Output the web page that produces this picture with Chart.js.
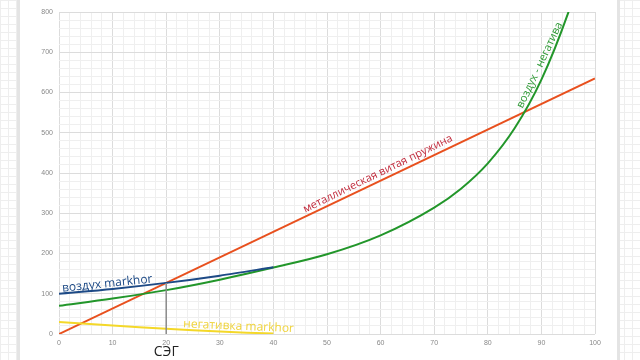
<!DOCTYPE html>
<html>
<head>
<meta charset="utf-8">
<script src="https://cdn.jsdelivr.net/npm/chart.js@4"></script>
<style>
  html, body { margin: 0; padding: 0; }
  body {
    width: 640px; height: 360px; overflow: hidden; position: relative;
    background-color: #fff;
    background-image:
      linear-gradient(to right, #eee 1px, transparent 1px),
      linear-gradient(to bottom, #eee 1px, transparent 1px);
    background-size: 8px 8px;
  }
  #card {
    position: absolute; left: 17px; top: 0; width: 597px; height: 360px;
    background: #fff; border-left: 3px solid #e4e4e4; border-right: 3px solid #e4e4e4;
  }
  #wrap { position: absolute; left: 0; top: 0; width: 640px; height: 360px; }
</style>
</head>
<body>
<div id="card"></div>
<div id="wrap"><canvas id="chart"></canvas></div>
<script>
// values
const springX = [0, 100];
const springY = [0, 635];

const airX = [0, 10, 20, 30, 40];
const airY = [100, 112, 127, 145, 166];

const diffX = [0, 10, 20, 30, 40, 50, 60, 70, 75, 80, 85, 90, 95, 97];
const diffY = [70, 88, 109, 135, 165, 198, 245, 314, 361, 424, 511, 632, 798, 881];

const negX = [0, 10, 20, 30, 40];
const negY = [30, 21, 13, 6, 1];

const segX = [20, 20];
const segY = [0, 127];

const xTicks = [0, 10, 20, 30, 40, 50, 60, 70, 80, 90, 100];
const yTicks = [0, 100, 200, 300, 400, 500, 600, 700, 800];

function pts(xs, ys) {
    return xs.map(function (x, i) { return { x: x, y: ys[i] }; });
}

// text labels on the plot, in data units
const notes = [
    { text: 'воздух markhor', x: 9.0, y: 125, angle: -5.9, color: '#1d4a86', size: 12 },
    { text: 'металлическая витая пружина', x: 59.5, y: 398, angle: -26, color: '#c0283a', size: 11 },
    { text: 'воздух - негатива', x: 89.7, y: 668, angle: -64.7, color: '#2f9a36', size: 11 },
    { text: 'негативка markhor', x: 33.5, y: 19, angle: 2.5, color: '#f0d43c', size: 12 },
];

const notesPlugin = {
    id: 'notes',
    afterDatasetsDraw: function (chart) {
        const ctx = chart.ctx;
        const xs = chart.scales.x, ys = chart.scales.y;
        notes.forEach(function (n) {
            ctx.save();
            ctx.translate(xs.getPixelForValue(n.x), ys.getPixelForValue(n.y));
            ctx.rotate(n.angle * Math.PI / 180);
            ctx.font = n.size + 'px "Open Sans", sans-serif';
            ctx.fillStyle = n.color;
            ctx.textAlign = 'center';
            ctx.textBaseline = 'middle';
            ctx.fillText(n.text, 0, 0);
            ctx.restore();
        });
        // axis caption under x = 20
        ctx.save();
        ctx.font = '14px "Open Sans", sans-serif';
        ctx.fillStyle = '#222';
        ctx.textAlign = 'center';
        ctx.textBaseline = 'middle';
        ctx.fillText('СЭГ', xs.getPixelForValue(20), chart.chartArea.bottom + 18);
        ctx.restore();
    }
};

function gridColor(ctx) {
    const v = ctx.tick ? ctx.tick.value : 0;
    const major = ctx.scale.axis === 'x' ? v % 10 === 0 : v % 100 === 0;
    return major ? '#dcdcdc' : '#efefef';
}

new Chart(document.getElementById('chart').getContext('2d'), {
    type: 'scatter',
    data: {
        datasets: [
            { data: pts(segX, segY), borderColor: '#8a8a8a', borderWidth: 1.5 },
            { data: pts(negX, negY), borderColor: '#f4d829', borderWidth: 2, tension: 0.3 },
            { data: pts(airX, airY), borderColor: '#1d4a86', borderWidth: 2, tension: 0.3 },
            { data: pts(diffX, diffY), borderColor: '#22962a', borderWidth: 2, cubicInterpolationMode: 'monotone' },
            { data: pts(springX, springY), borderColor: '#e8501e', borderWidth: 2 },
        ].map(function (d) {
            d.showLine = true;
            d.pointRadius = 0;
            d.pointHoverRadius = 0;
            return d;
        }),
    },
    options: {
        responsive: true,
        maintainAspectRatio: false,
        animation: false,
        layout: { padding: { left: 0, right: 45, top: 12, bottom: 0 } },
        plugins: { legend: { display: false }, tooltip: { enabled: false } },
        scales: {
            x: {
                type: 'linear', min: 0, max: 100,
                afterFit: function (s) { s.height = 26; },
                grid: { color: gridColor, drawTicks: false },
                border: { display: false },
                ticks: {
                    stepSize: 2, autoSkip: false, maxTicksLimit: 100, maxRotation: 0,
                    padding: 5, color: '#888', font: { size: 7 },
                    callback: function (v) { return xTicks.indexOf(v) >= 0 ? v : ''; },
                },
            },
            y: {
                min: 0, max: 800,
                afterFit: function (s) { s.width = 59; },
                grid: { color: gridColor, drawTicks: false },
                border: { display: false },
                ticks: {
                    stepSize: 20, autoSkip: false, maxTicksLimit: 100,
                    padding: 6, color: '#888', font: { size: 7 },
                    callback: function (v) { return yTicks.indexOf(v) >= 0 ? v : ''; },
                },
            },
        },
    },
    plugins: [notesPlugin],
});
</script>
</body>
</html>
